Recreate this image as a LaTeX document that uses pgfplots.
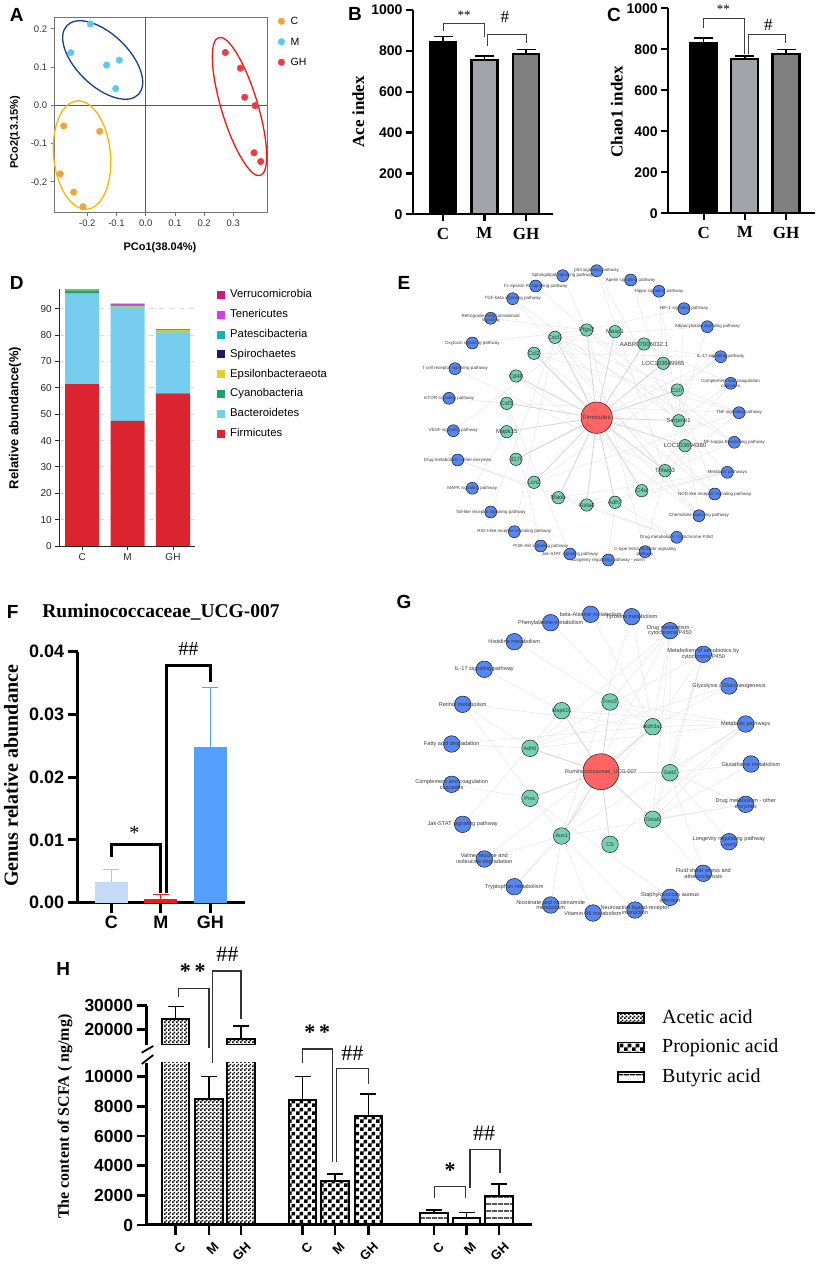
\documentclass[border=0pt]{standalone}
\usepackage{fontspec}
\setmainfont{Liberation Sans}
\newfontfamily\tnr{Liberation Serif}
\usepackage{pgfplots}
\pgfplotsset{compat=1.18}
\usetikzlibrary{patterns,shapes.geometric}

\definecolor{cC}{HTML}{F0A43A}
\definecolor{cM}{HTML}{5BC8EF}
\definecolor{cGH}{HTML}{EE3A43}
\definecolor{elM}{HTML}{1B3C8C}
\definecolor{elC}{HTML}{F8B700}
\definecolor{elGH}{HTML}{FF1010}
\definecolor{grayM}{HTML}{A3A3AA}
\definecolor{grayGH}{HTML}{808080}
\definecolor{firm}{HTML}{DC2430}
\definecolor{bact}{HTML}{76CDED}
\definecolor{cyano}{HTML}{1DA45E}
\definecolor{eps}{HTML}{E2D224}
\definecolor{spiro}{HTML}{2B1659}
\definecolor{pates}{HTML}{14B2B4}
\definecolor{tener}{HTML}{D23CF0}
\definecolor{verru}{HTML}{D0148C}
\definecolor{nblue}{HTML}{5586F3}
\definecolor{ngreen}{HTML}{74D1B2}
\definecolor{nred}{HTML}{FF6464}
\definecolor{nedge}{HTML}{E6E6E6}
\definecolor{nspoke}{HTML}{D8D8D8}
\definecolor{nlab}{HTML}{3A3A3A}
\definecolor{fC}{HTML}{C4DAF6}
\definecolor{fCe}{HTML}{A8C6F0}
\definecolor{fM}{HTML}{F01A1A}
\definecolor{fGH}{HTML}{549FFB}

% bar fills of panel H
\pgfdeclarepatternformonly{chkfine}{\pgfqpoint{0pt}{0pt}}{\pgfqpoint{4pt}{4pt}}{\pgfqpoint{4pt}{4pt}}{%
  \pgfpathrectangle{\pgfqpoint{0pt}{0pt}}{\pgfqpoint{2pt}{2pt}}%
  \pgfpathrectangle{\pgfqpoint{2pt}{2pt}}{\pgfqpoint{2pt}{2pt}}%
  \pgfusepath{fill}}
\pgfdeclarepatternformonly{chkcoarse}{\pgfqpoint{0pt}{0pt}}{\pgfqpoint{8pt}{8pt}}{\pgfqpoint{8pt}{8pt}}{%
  \pgfpathrectangle{\pgfqpoint{0pt}{0pt}}{\pgfqpoint{4pt}{4pt}}%
  \pgfpathrectangle{\pgfqpoint{4pt}{4pt}}{\pgfqpoint{4pt}{4pt}}%
  \pgfusepath{fill}}
\pgfdeclarepatternformonly{hlinesw}{\pgfqpoint{0pt}{0pt}}{\pgfqpoint{6pt}{6.5pt}}{\pgfqpoint{6pt}{6.5pt}}{%
  \pgfpathrectangle{\pgfqpoint{0pt}{2.6pt}}{\pgfqpoint{6pt}{1.3pt}}%
  \pgfusepath{fill}}

\pgfplotsset{
  every axis/.append style={scale only axis, anchor=south west,
    /pgf/number format/assume math mode=true, /pgf/number format/1000 sep={}},
  errplus/.style n args={3}{
    /pgfplots/error bars/y dir=plus,
    /pgfplots/error bars/y explicit,
    /pgfplots/error bars/error bar style={line width=#1, #3},
    /pgfplots/error bars/error mark options={rotate=90, mark size=#2, line width=#1, #3}},
  netlab/.style={nodes near coords, point meta=explicit symbolic,
    every node near coord/.append style={anchor=center, font=\fontsize{#1}{#1}\selectfont,
      text=nlab, inner sep=0pt, align=center}},
}

\begin{document}
\begin{tikzpicture}
\useasboundingbox (0,0) rectangle (816pt,1267pt);

% ---------------- A: PCoA
\begin{axis}[at={(54.7pt,1054.7pt)}, width=212.6pt, height=195pt,
  xmin=-0.3116, xmax=0.4164, ymin=-0.2796, ymax=0.23,
  axis line style={black!55, line width=0.8pt},
  xtick={-0.2,-0.1,0,0.1,0.2,0.3}, ytick={-0.2,-0.1,0,0.1,0.2},
  xtick pos=bottom, ytick pos=left, tick align=outside, major tick length=4pt,
  every tick/.style={black!55, line width=0.8pt},
  tick label style={font=\fontsize{9.5}{9.5}\selectfont, text=black!80},
  xticklabel style={/pgf/number format/.cd, fixed, fixed zerofill, precision=1},
  yticklabel style={/pgf/number format/.cd, fixed, fixed zerofill, precision=1},
  clip=false,
  legend style={draw=none, fill=none, at={(1,1)}, anchor=north west, xshift=10.4pt,
    inner sep=0pt, row sep=13pt, font=\fontsize{10.5}{10.5}\selectfont,
    nodes={inner sep=0pt, text height=7.5pt, text depth=0pt},
    /tikz/every odd column/.append style={column sep=5.7pt}},
  legend cell align=left]
\draw[black!65, line width=0.8pt] (axis cs:0,-0.2796) -- (axis cs:0,0.23);
\draw[black!65, line width=0.8pt] (axis cs:-0.3116,0) -- (axis cs:0.4164,0);
\node[draw=elM, line width=1.3pt, ellipse, inner sep=0pt, minimum width=99.3pt, minimum height=52.1pt, rotate=-44] at (axis cs:-0.1473,0.1184) {};
\node[draw=elC, line width=1.3pt, ellipse, inner sep=0pt, minimum width=56.8pt, minimum height=108.8pt, rotate=5.4] at (axis cs:-0.218,-0.13) {};
\node[draw=elGH, line width=1.3pt, ellipse, inner sep=0pt, minimum width=36.4pt, minimum height=144.2pt, rotate=16.8] at (axis cs:0.3212,-0.0031) {};
\addplot[only marks, mark=*, mark size=3.3pt, mark options={draw=cC, fill=cC},
  legend image code/.code={\fill[cC] (3.3pt,0pt) circle (3.3pt);}]
  coordinates {(-0.2808,-0.054) (-0.1575,-0.068) (-0.2922,-0.179) (-0.2466,-0.227) (-0.2146,-0.265)};
\addlegendentry{C}
\addplot[only marks, mark=*, mark size=3.3pt, mark options={draw=cM, fill=cM},
  legend image code/.code={\fill[cM] (3.3pt,0pt) circle (3.3pt);}]
  coordinates {(-0.1895,0.2125) (-0.2568,0.1376) (-0.1336,0.105) (-0.0902,0.118) (-0.1027,0.0436)};
\addlegendentry{M}
\addplot[only marks, mark=*, mark size=3.3pt, mark options={draw=cGH, fill=cGH},
  legend image code/.code={\fill[cGH] (3.3pt,0pt) circle (3.3pt);}]
  coordinates {(0.2728,0.138) (0.3242,0.097) (0.339,0.021) (0.3744,-0.001) (0.371,-0.124) (0.3938,-0.147)};
\addlegendentry{GH}
\end{axis}

% ---------------- B: Ace
\begin{axis}[at={(413pt,1052.7pt)}, width=140pt, height=204.3pt,
  xmin=-0.723, xmax=2.65, ymin=0, ymax=1000,
  axis lines*=left, axis line style={line width=2.3pt},
  xtick={0,1,2}, xticklabels={C,M,GH}, ytick={0,200,...,1000},
  tick align=outside, major tick length=7pt, every tick/.style={black, line width=2.3pt},
  xticklabel style={font=\tnr\bfseries\fontsize{17}{17}\selectfont, yshift=-3pt},
  yticklabel style={font=\bfseries\fontsize{14}{14}\selectfont},
  clip=false]
\addplot[ybar, bar shift=0pt, bar width=0.63, fill=black, draw=black, line width=2.2pt, errplus={1.5pt}{9.5pt}{black}]
  coordinates {(0,842) +- (0,29)};
\addplot[ybar, bar shift=0pt, bar width=0.63, fill=grayM, draw=black, line width=2.2pt, errplus={1.5pt}{9.5pt}{black}]
  coordinates {(1,756) +- (0,18)};
\addplot[ybar, bar shift=0pt, bar width=0.63, fill=grayGH, draw=black, line width=2.2pt, errplus={1.5pt}{9.5pt}{black}]
  coordinates {(2,785) +- (0,21)};
\draw[black!75, line width=1pt] (axis cs:0,895.6) |- (axis cs:1,934.6) -- (axis cs:1,866);
\draw[black!75, line width=1pt] (axis cs:1.077,826) |- (axis cs:2,879.5) -- (axis cs:2,837);
\node[font=\tnr\fontsize{13}{13}\selectfont] at (axis cs:0.51,975) {**};
\node[font=\tnr\fontsize{17}{17}\selectfont] at (axis cs:1.49,964) {\#};
\end{axis}

% ---------------- C: Chao1
\begin{axis}[at={(668.3pt,1053.7pt)}, width=146.7pt, height=205pt,
  xmin=-0.86, xmax=2.705, ymin=0, ymax=1000,
  axis lines*=left, axis line style={line width=2.3pt},
  xtick={0,1,2}, xticklabels={C,M,GH}, ytick={0,200,...,1000},
  tick align=outside, major tick length=7pt, every tick/.style={black, line width=2.3pt},
  xticklabel style={font=\tnr\bfseries\fontsize{17}{17}\selectfont, yshift=-3pt},
  yticklabel style={font=\bfseries\fontsize{14}{14}\selectfont},
  clip=false]
\addplot[ybar, bar shift=0pt, bar width=0.656, fill=black, draw=black, line width=2.2pt, errplus={1.5pt}{9.5pt}{black}]
  coordinates {(0,829) +- (0,27)};
\addplot[ybar, bar shift=0pt, bar width=0.656, fill=grayM, draw=black, line width=2.2pt, errplus={1.5pt}{9.5pt}{black}]
  coordinates {(1,751.5) +- (0,16)};
\addplot[ybar, bar shift=0pt, bar width=0.656, fill=grayGH, draw=black, line width=2.2pt, errplus={1.5pt}{9.5pt}{black}]
  coordinates {(2,778.7) +- (0,21.3)};
\draw[black!75, line width=1pt] (axis cs:0,905) |- (axis cs:0.99,950) -- (axis cs:0.99,775);
\draw[black!75, line width=1pt] (axis cs:1.084,775) |- (axis cs:1.99,873) -- (axis cs:1.99,832);
\node[font=\tnr\fontsize{13}{13}\selectfont] at (axis cs:0.477,995) {**};
\node[font=\tnr\fontsize{17}{17}\selectfont] at (axis cs:1.57,918) {\#};
\end{axis}

% ---------------- D: phyla
\begin{axis}[at={(59.3pt,721pt)}, width=135.7pt, height=256.7pt,
  xmin=-0.504, xmax=2.485, ymin=0, ymax=97.4,
  axis lines*=left, axis line style={black!85, line width=0.9pt},
  xtick={0,1,2}, xticklabels={C,M,GH}, ytick={0,10,...,90},
  tick align=outside, major tick length=4pt, every tick/.style={black!85, line width=0.9pt},
  ymajorgrids, grid style={gray!30, dash pattern=on 5pt off 5pt, line width=0.9pt},
  tick label style={font=\fontsize{10}{10}\selectfont, text=black!85},
  ybar stacked, bar width=0.75,
  reverse legend, legend cell align=left,
  legend style={draw=none, fill=none, at={(1,1)}, anchor=north west, xshift=22pt,
    inner sep=0pt, row sep=8.8pt, font=\fontsize{11.3}{11.3}\selectfont,
    nodes={inner sep=0pt, text height=8.5pt, text depth=2.5pt},
    /tikz/every odd column/.append style={column sep=5pt}}]
\addplot[fill=firm, draw=none, legend image code/.code={\fill[firm] (0pt,-4pt) rectangle (8pt,4pt);}]
  coordinates {(0,61.4) (1,47.5) (2,57.9)};
\addlegendentry{Firmicutes}
\addplot[fill=bact, draw=none, legend image code/.code={\fill[bact] (0pt,-4pt) rectangle (8pt,4pt);}]
  coordinates {(0,34.4) (1,43.0) (2,23.2)};
\addlegendentry{Bacteroidetes}
\addplot[fill=cyano, draw=none, legend image code/.code={\fill[cyano] (0pt,-4pt) rectangle (8pt,4pt);}]
  coordinates {(0,1.2) (1,0.35) (2,0.2)};
\addlegendentry{Cyanobacteria}
\addplot[fill=eps, draw=none, legend image code/.code={\fill[eps] (0pt,-4pt) rectangle (8pt,4pt);}]
  coordinates {(0,0.15) (1,0.4) (2,0.7)};
\addlegendentry{Epsilonbacteraeota}
\addplot[fill=spiro, draw=none, legend image code/.code={\fill[spiro] (0pt,-4pt) rectangle (8pt,4pt);}]
  coordinates {(0,0.05) (1,0.1) (2,0.05)};
\addlegendentry{Spirochaetes}
\addplot[fill=pates, draw=none, legend image code/.code={\fill[pates] (0pt,-4pt) rectangle (8pt,4pt);}]
  coordinates {(0,0.05) (1,0.1) (2,0.05)};
\addlegendentry{Patescibacteria}
\addplot[fill=tener, draw=none, legend image code/.code={\fill[tener] (0pt,-4pt) rectangle (8pt,4pt);}]
  coordinates {(0,0.1) (1,0.35) (2,0.1)};
\addlegendentry{Tenericutes}
\addplot[fill=verru, draw=none, legend image code/.code={\fill[verru] (0pt,-4pt) rectangle (8pt,4pt);}]
  coordinates {(0,0.05) (1,0.2) (2,0.05)};
\addlegendentry{Verrucomicrobia}
\end{axis}

% ---------------- E: Firmicutes network (layout coordinates)
\begin{axis}[at={(420pt,687pt)}, width=396pt, height=330pt,
  xmin=420, xmax=816, ymin=250, ymax=580, y dir=reverse, hide axis, clip=false]
\addplot[nedge, line width=0.5pt, unbounded coords=jump] coordinates {
 (596.7,270.7) (678.7,420.7) (596.7,270.7) (665,470.7) (nan,nan)
 (562.7,275.7) (586.7,330) (nan,nan)
 (630.7,280) (685,445.7) (nan,nan)
 (535.7,286) (586.7,330) (nan,nan)
 (659,291.3) (663.3,363.3) (659,291.3) (678.7,420.7) (nan,nan)
 (512.7,298.7) (678.7,420.7) (512.7,298.7) (665,470.7) (nan,nan)
 (684,308.7) (678.7,420.7) (684,308.7) (586.7,330) (nan,nan)
 (490.7,318.3) (586.7,330) (nan,nan)
 (707.3,326.7) (665,470.7) (707.3,326.7) (555,337.3) (nan,nan)
 (472.3,343) (586.7,330) (nan,nan)
 (720.7,356.7) (555,337.3) (720.7,356.7) (534,353.3) (720.7,356.7) (677.3,390) (720.7,356.7) (534,482.3) (720.7,356.7) (516,459.3) (nan,nan)
 (455,368.7) (665,470.7) (nan,nan)
 (730.7,383.3) (615,331.7) (730.7,383.3) (641.7,490.7) (730.7,383.3) (678.7,420.7) (nan,nan)
 (449,398.3) (506.7,403.3) (nan,nan)
 (739,412.7) (555,337.3) (739,412.7) (534,353.3) (739,412.7) (665,470.7) (739,412.7) (534,482.3) (739,412.7) (506.7,403.3) (nan,nan)
 (453.3,430.7) (586.7,330) (nan,nan)
 (734.3,442.3) (555,337.3) (734.3,442.3) (665,470.7) (734.3,442.3) (586.7,330) (nan,nan)
 (457.7,460) (558.3,497.7) (457.7,460) (586.7,505) (nan,nan)
 (727.3,472.3) (558.3,497.7) (727.3,472.3) (615,502.3) (727.3,472.3) (586.7,505) (727.3,472.3) (586.7,330) (nan,nan)
 (472.3,488.3) (506.7,431.7) (nan,nan)
 (714.7,494) (555,337.3) (714.7,494) (534,353.3) (714.7,494) (677.3,390) (nan,nan)
 (490.7,512) (555,337.3) (nan,nan)
 (699,515.7) (555,337.3) (699,515.7) (534,353.3) (699,515.7) (677.3,390) (699,515.7) (516,376) (nan,nan)
 (514.3,531.7) (555,337.3) (nan,nan)
 (676.7,537.3) (558.3,497.7) (676.7,537.3) (615,502.3) (676.7,537.3) (586.7,505) (nan,nan)
 (540.7,546) (506.7,403.3) (nan,nan)
 (645,551.7) (665,470.7) (645,551.7) (586.7,330) (nan,nan)
 (570,554) (506.7,403.3) (nan,nan)
 (608.3,560) (615,502.3)
};
\addplot[nspoke, line width=0.9pt] coordinates {
 (596.7,417.7) (586.7,330) (596.7,417.7) (615,331.7) (596.7,417.7) (555,337.3)
 (596.7,417.7) (644,344) (596.7,417.7) (534,353.3) (596.7,417.7) (663.3,363.3)
 (596.7,417.7) (516,376) (596.7,417.7) (677.3,390) (596.7,417.7) (506.7,403.3)
 (596.7,417.7) (678.7,420.7) (596.7,417.7) (506.7,431.7) (596.7,417.7) (685,445.7)
 (596.7,417.7) (516,459.3) (596.7,417.7) (665,470.7) (596.7,417.7) (534,482.3)
 (596.7,417.7) (641.7,490.7) (596.7,417.7) (558.3,497.7) (596.7,417.7) (615,502.3)
 (596.7,417.7) (586.7,505)
};
\addplot[only marks, mark=*, mark size=6pt, mark options={fill=nblue, draw=none}, netlab=4.5] coordinates {
 (596.7,270.7) [p53 signaling pathway]
 (562.7,275.7) [Sphingolipid signaling pathway]
 (630.7,280) [Apelin signaling pathway]
 (535.7,286) [Fc epsilon RI signaling pathway]
 (659,291.3) [Hippo signaling pathway]
 (512.7,298.7) [TGF-beta signaling pathway]
 (684,308.7) [HIF-1 signaling pathway]
 (490.7,318.3) [Retrograde endocannabinoid\\signaling]
 (707.3,326.7) [Adipocytokine signaling pathway]
 (472.3,343) [Oxytocin signaling pathway]
 (720.7,356.7) [IL-17 signaling pathway]
 (455,368.7) [T cell receptor signaling pathway]
 (730.7,383.3) [Complement and coagulation\\cascades]
 (449,398.3) [mTOR signaling pathway]
 (739,412.7) [TNF signaling pathway]
 (453.3,430.7) [VEGF signaling pathway]
 (734.3,442.3) [NF-kappa B signaling pathway]
 (457.7,460) [Drug metabolism - other enzymes]
 (727.3,472.3) [Metabolic pathways]
 (472.3,488.3) [MAPK signaling pathway]
 (714.7,494) [NOD-like receptor signaling pathway]
 (490.7,512) [Toll-like receptor signaling pathway]
 (699,515.7) [Chemokine signaling pathway]
 (514.3,531.7) [RIG-I-like receptor signaling pathway]
 (676.7,537.3) [Drug metabolism - cytochrome P450]
 (540.7,546) [PI3K-Akt signaling pathway]
 (645,551.7) [C-type lectin receptor signaling\\pathway]
 (570,554) [Jak-STAT signaling pathway]
 (608.3,560) [Longevity regulating pathway - worm]
};
\addplot[only marks, mark=*, mark size=6.2pt, mark options={fill=ngreen, draw=none}, netlab=6] coordinates {
 (586.7,330) [Ptgs2] (615,331.7) [Masp1] (555,337.3) [Cxcl1] (644,344) [AABR07006032.1]
 (534,353.3) [Ccl2] (663.3,363.3) [LOC103689965] (516,376) [Cd48] (677.3,390) [Ccl7]
 (506.7,403.3) [Csf3] (678.7,420.7) [Serpine1] (506.7,431.7) [Mapk15] (685,445.7) [LOC103694380]
 (516,459.3) [Il17f] (665,470.7) [Tnfaip3] (534,482.3) [Lcn2] (641.7,490.7) [C4a]
 (558.3,497.7) [Maob] (615,502.3) [Adh7] (586.7,505) [Gsta4]
};
\addplot[only marks, mark=*, mark size=15.7pt, mark options={fill=nred, draw=none}, netlab=6]
  coordinates {(596.7,417.7) [Firmicutes]};
\end{axis}

% ---------------- F: Ruminococcaceae
\begin{axis}[at={(77.7pt,364.3pt)}, width=167.3pt, height=251pt,
  xmin=-0.679, xmax=2.70, ymin=0, ymax=0.04,
  axis lines*=left, axis line style={line width=3pt},
  xtick={0,1,2}, xticklabels={C,M,GH}, ytick={0,0.01,0.02,0.03,0.04},
  scaled y ticks=false,
  yticklabel style={/pgf/number format/.cd, fixed, fixed zerofill, precision=2},
  tick align=outside, major tick length=10pt, every tick/.style={black, line width=3pt},
  tick label style={font=\bfseries\fontsize{18}{18}\selectfont},
  clip=false]
\addplot[ybar, bar shift=0pt, bar width=0.66, fill=fC, draw=none, errplus={1pt}{8pt}{fCe}]
  coordinates {(0,0.00335) +- (0,0.00191)};
\addplot[ybar, bar shift=0pt, bar width=0.66, fill=fM, draw=none, errplus={1pt}{8pt}{fM}]
  coordinates {(1,0.00059) +- (0,0.00075)};
\addplot[ybar, bar shift=0pt, bar width=0.66, fill=fGH, draw=none, errplus={1pt}{8pt}{fGH}]
  coordinates {(2,0.02486) +- (0,0.0094)};
\draw[line width=3pt] (axis cs:0,0.00733) |- (axis cs:0.99,0.009195) -- (axis cs:0.99,0.00159);
\draw[line width=3pt] (axis cs:1.119,0.00159) |- (axis cs:2,0.03783) -- (axis cs:2,0.03522);
\node[font=\tnr\fontsize{20}{20}\selectfont] at (axis cs:0.465,0.01106) {*};
\node[font=\tnr\fontsize{20}{20}\selectfont] at (axis cs:1.556,0.04043) {\#\#};
\end{axis}

% ---------------- G: Ruminococcaceae network (layout coordinates)
\begin{axis}[at={(420pt,337pt)}, width=396pt, height=350pt,
  xmin=420, xmax=816, ymin=580, ymax=930, y dir=reverse, hide axis, clip=false]
\addplot[nedge, line width=0.5pt, unbounded coords=jump] coordinates {
 (590.7,614.3) (652.7,726.7) (nan,nan)
 (631.7,616.7) (652.7,726.7) (631.7,616.7) (561.7,836) (nan,nan)
 (550.7,622.7) (652.7,726.7) (nan,nan)
 (670,630.7) (561.7,836) (670,630.7) (530,748.3) (670,630.7) (670,772.7) (670,630.7) (652.7,819.3) (670,630.7) (652.7,726.7) (670,630.7) (610,702) (nan,nan)
 (514.3,641.7) (652.7,726.7) (nan,nan)
 (703.3,654.3) (530,748.3) (703.3,654.3) (670,772.7) (703.3,654.3) (652.7,819.3) (703.3,654.3) (652.7,726.7) (nan,nan)
 (484.3,669.3) (561.7,710.7) (nan,nan)
 (729,686) (530,748.3) (729,686) (652.7,726.7) (nan,nan)
 (462.7,704.3) (561.7,836) (462.7,704.3) (652.7,726.7) (462.7,704.3) (530,748.3) (nan,nan)
 (745.7,724) (530,748.3) (745.7,724) (670,772.7) (745.7,724) (652.7,819.3) (745.7,724) (652.7,726.7) (745.7,724) (610,702) (745.7,724) (561.7,710.7) (745.7,724) (561.7,836) (745.7,724) (610,844.3) (nan,nan)
 (451.7,744) (530,748.3) (451.7,744) (652.7,726.7) (nan,nan)
 (751,764) (670,772.7) (751,764) (652.7,819.3) (nan,nan)
 (451.7,784.3) (530,798.3) (nan,nan)
 (745.7,804.3) (561.7,836) (745.7,804.3) (670,772.7) (745.7,804.3) (652.7,819.3) (nan,nan)
 (462.7,824.3) (561.7,710.7) (nan,nan)
 (729,841.7) (670,772.7) (nan,nan)
 (484.3,859) (561.7,836) (484.3,859) (652.7,726.7) (nan,nan)
 (703.3,873.3) (670,772.7) (703.3,873.3) (652.7,819.3) (nan,nan)
 (514.3,886.7) (561.7,836) (514.3,886.7) (652.7,726.7) (nan,nan)
 (670,897.3) (530,798.3) (nan,nan)
 (550.7,905) (561.7,836) (nan,nan)
 (593,913) (561.7,836) (nan,nan)
 (635,910) (561.7,836)
};
\addplot[nspoke, line width=0.9pt] coordinates {
 (601,771.7) (561.7,710.7) (601,771.7) (610,702) (601,771.7) (652.7,726.7)
 (601,771.7) (530,748.3) (601,771.7) (670,772.7) (601,771.7) (530,798.3)
 (601,771.7) (652.7,819.3) (601,771.7) (561.7,836) (601,771.7) (610,844.3)
};
\addplot[only marks, mark=*, mark size=8.3pt, mark options={fill=nblue, draw=none}, netlab=5.6] coordinates {
 (590.7,614.3) [beta-Alanine metabolism]
 (631.7,616.7) [Tyrosine metabolism]
 (550.7,622.7) [Phenylalanine metabolism]
 (670,630.7) [Drug metabolism -\\cytochrome P450]
 (514.3,641.7) [Histidine metabolism]
 (703.3,654.3) [Metabolism of xenobiotics by\\cytochrome P450]
 (484.3,669.3) [IL-17 signaling pathway]
 (729,686) [Glycolysis / Gluconeogenesis]
 (462.7,704.3) [Retinol metabolism]
 (745.7,724) [Metabolic pathways]
 (451.7,744) [Fatty acid degradation]
 (751,764) [Glutathione metabolism]
 (451.7,784.3) [Complement and coagulation\\cascades]
 (745.7,804.3) [Drug metabolism - other\\enzymes]
 (462.7,824.3) [Jak-STAT signaling pathway]
 (729,841.7) [Longevity regulating pathway\\- worm]
 (484.3,859) [Valine, leucine and\\isoleucine degradation]
 (703.3,873.3) [Fluid shear stress and\\atherosclerosis]
 (514.3,886.7) [Tryptophan metabolism]
 (670,897.3) [Staphylococcus aureus\\infection]
 (550.7,905) [Nicotinate and nicotinamide\\metabolism]
 (593,913) [Vitamin B6 metabolism]
 (635,910) [Neuroactive ligand-receptor\\interaction]
};
\addplot[only marks, mark=*, mark size=8.3pt, mark options={fill=ngreen, draw=none}, netlab=5.4] coordinates {
 (561.7,710.7) [Mapk15] (610,702) [Fmo3] (652.7,726.7) [Aldh3a1] (530,748.3) [Adh6]
 (670,772.7) [Gstt2] (530,798.3) [Proc] (652.7,819.3) [Gsta6] (561.7,836) [Aox1] (610,844.3) [CS]
};
\addplot[only marks, mark=*, mark size=18pt, mark options={fill=nred, draw=none}, netlab=5.5]
  coordinates {(601,771.7) [Ruminococcaceae\_UCG-007]};
\end{axis}

% ---------------- H: SCFA, upper segment of the broken axis
\begin{axis}[at={(146.7pt,222pt)}, width=384.9pt, height=39.3pt,
  xmin=146.7, xmax=531.6, ymin=13347, ymax=30000,
  axis y line*=left, axis x line=none, axis line style={line width=3pt},
  ytick={20000,30000}, xtick=\empty, scaled y ticks=false,
  yticklabel style={font=\bfseries\fontsize{17.5}{17.5}\selectfont},
  tick align=outside, major tick length=10pt, every tick/.style={black, line width=2.5pt}]
\addplot[ybar, bar shift=0pt, bar width=27.5, draw=black, line width=2pt, pattern=chkfine, errplus={1.5pt}{8pt}{black}]
  coordinates {(175.7,24400) +- (0,5200) (241,15800) +- (0,5600)};
\end{axis}

% ---------------- H: lower segment
\begin{axis}[at={(146.7pt,42pt)}, width=384.9pt, height=162.3pt,
  xmin=146.7, xmax=531.6, ymin=0, ymax=10944,
  axis lines*=left, axis line style={line width=3pt},
  xtick={175.7,209,241,302.7,335,368.3,434,466.5,499},
  xticklabels={C,M,GH,C,M,GH,C,M,GH},
  ytick={0,2000,...,10000}, scaled y ticks=false,
  yticklabel style={font=\bfseries\fontsize{17.5}{17.5}\selectfont},
  xticklabel style={font=\bfseries\fontsize{13}{13}\selectfont, rotate=45, anchor=north east,
    inner sep=0.5pt, yshift=-7pt, xshift=-1pt},
  tick align=outside, major tick length=10pt, every tick/.style={black, line width=2.5pt},
  clip mode=individual,
  legend cell align=left,
  legend style={draw=none, fill=none, at={(1.2219,1.331)}, anchor=north west,
    inner sep=0pt, row sep=11.5pt, font=\tnr\fontsize{20}{20}\selectfont,
    nodes={inner sep=0pt, text height=14pt, text depth=4pt},
    /tikz/every odd column/.append style={column sep=17.5pt}}]
\addplot[ybar, bar shift=0pt, bar width=27.5, draw=black, line width=2pt, pattern=chkfine, forget plot]
  coordinates {(175.7,24400) (241,15800)};
\addplot[ybar, bar shift=0pt, bar width=27.5, draw=black, line width=2pt, pattern=chkfine, errplus={1.5pt}{8pt}{black},
  legend image code/.code={\draw[black, line width=1.5pt, pattern=chkfine] (0pt,-5pt) rectangle (26pt,5pt);}]
  coordinates {(209,8500) +- (0,1500)};
\addlegendentry{Acetic acid}
\addplot[ybar, bar shift=0pt, bar width=27.5, draw=black, line width=2pt, pattern=chkcoarse, errplus={1.5pt}{8pt}{black},
  legend image code/.code={\draw[black, line width=1.5pt, pattern=chkcoarse] (0pt,-5pt) rectangle (26pt,5pt);}]
  coordinates {(302.7,8400) +- (0,1600) (335,3000) +- (0,440) (368.3,7370) +- (0,1480)};
\addlegendentry{Propionic acid}
\addplot[ybar, bar shift=0pt, bar width=27.5, draw=black, line width=2pt, pattern=hlinesw, errplus={1.5pt}{8pt}{black},
  legend image code/.code={\draw[black, line width=1.5pt, pattern=hlinesw] (0pt,-5pt) rectangle (26pt,5pt);}]
  coordinates {(434,830) +- (0,180) (466.5,490) +- (0,340) (499,1955) +- (0,810)};
\addlegendentry{Butyric acid}
\draw[black!80, line width=1.1pt] (axis cs:178.3,15354) |- (axis cs:209,15961) -- (axis cs:209,11915);
\draw[black!80, line width=1.1pt] (axis cs:212.7,10944) |- (axis cs:241,17128) -- (axis cs:241,13871);
\draw[black!80, line width=1.1pt] (axis cs:302.7,10904) |- (axis cs:332.3,11868) -- (axis cs:332.3,4268);
\draw[black!80, line width=1.1pt] (axis cs:336.7,4268) |- (axis cs:368.3,10566) -- (axis cs:368.3,9508);
\draw[black!80, line width=1.1pt] (axis cs:434.2,1841) |- (axis cs:465.8,2583) -- (axis cs:465.8,1841);
\draw[black!80, line width=1.1pt] (axis cs:470,2475) |- (axis cs:500,5105) -- (axis cs:500,3486);
\node[font=\tnr\bfseries\fontsize{22}{22}\selectfont] at (axis cs:192.7,17080) {*\,*};
\node[font=\tnr\fontsize{22}{22}\selectfont] at (axis cs:227.3,18274) {\#\#};
\node[font=\tnr\bfseries\fontsize{22}{22}\selectfont] at (axis cs:317.3,12980) {*\,*};
\node[font=\tnr\fontsize{22}{22}\selectfont] at (axis cs:352.3,11578) {\#\#};
\node[font=\tnr\bfseries\fontsize{22}{22}\selectfont] at (axis cs:450,3709) {*};
\node[font=\tnr\fontsize{22}{22}\selectfont] at (axis cs:484.2,6183) {\#\#};
\end{axis}
\draw[line width=1.8pt] (141.7pt,214.3pt) -- (153.3pt,221pt);
\draw[line width=1.8pt] (141.7pt,203pt) -- (153.3pt,212pt);

% ---------------- panel letters and axis titles
\node[font=\bfseries\fontsize{19}{19}\selectfont] at (16.7pt,1252pt) {A};
\node[font=\bfseries\fontsize{19}{19}\selectfont] at (355pt,1253pt) {B};
\node[font=\bfseries\fontsize{19}{19}\selectfont] at (614pt,1252pt) {C};
\node[font=\bfseries\fontsize{19}{19}\selectfont] at (16.7pt,983.7pt) {D};
\node[font=\bfseries\fontsize{19}{19}\selectfont] at (404pt,983.7pt) {E};
\node[font=\bfseries\fontsize{19}{19}\selectfont] at (12.7pt,654.7pt) {F};
\node[font=\bfseries\fontsize{19}{19}\selectfont] at (404pt,665.3pt) {G};
\node[font=\bfseries\fontsize{19}{19}\selectfont] at (63.3pt,297.7pt) {H};
\node[rotate=90, font=\bfseries\fontsize{11}{11}\selectfont] at (15pt,1134.5pt) {PCo2(13.15\%)};
\node[font=\bfseries\fontsize{11}{11}\selectfont] at (160pt,1019pt) {PCo1(38.04\%)};
\node[rotate=90, font=\tnr\bfseries\fontsize{17}{17}\selectfont] at (358.3pt,1155.3pt) {Ace index};
\node[rotate=90, font=\tnr\bfseries\fontsize{17}{17}\selectfont] at (616.7pt,1155pt) {Chao1 index};
\node[rotate=90, font=\bfseries\fontsize{13}{13}\selectfont] at (15pt,849pt) {Relative abundance(\%)};
\node[font=\tnr\bfseries\fontsize{19.5}{19.5}\selectfont] at (161pt,654.7pt) {Ruminococcaceae\_UCG-007};
\node[rotate=90, font=\tnr\bfseries\fontsize{20}{20}\selectfont] at (11pt,491pt) {Genus relative abundance};
\node[rotate=90, font=\tnr\bfseries\fontsize{16}{16}\selectfont] at (65pt,150.3pt) {The content of SCFA ( ng/mg)};
\end{tikzpicture}
\end{document}
